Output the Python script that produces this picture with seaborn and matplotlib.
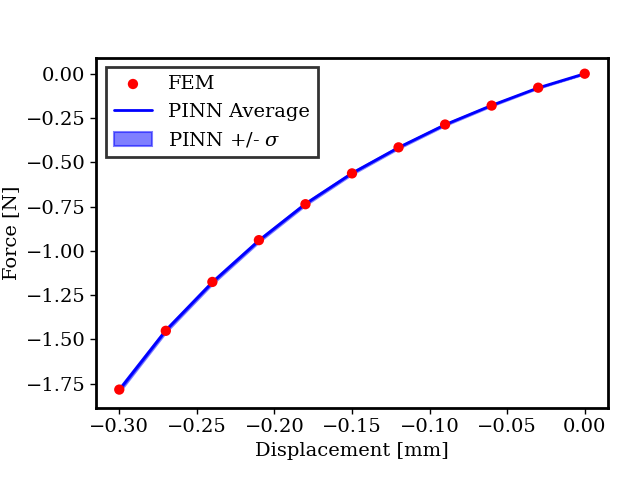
import matplotlib
matplotlib.use("Agg")
import matplotlib.pyplot as plt
import numpy as np
import seaborn as sns

# FEM reference points
disp = [-0.30, -0.27, -0.24, -0.21, -0.18, -0.15, -0.12, -0.09, -0.06, -0.03, 0.00]
force_fem = [-1.784, -1.452, -1.176, -0.940, -0.737, -0.563, -0.416, -0.287, -0.180, -0.079, 0.000]

# PINN prediction (mean and std)
force_pinn = [-1.786, -1.450, -1.178, -0.942, -0.735, -0.562, -0.417, -0.288, -0.179, -0.080, 0.000]
force_std = [0.012, 0.010, 0.009, 0.008, 0.007, 0.006, 0.005, 0.004, 0.003, 0.002, 0.001]

sns.set_style("white")
plt.rcParams["font.family"] = ["DejaVu Serif"]
plt.rcParams["font.size"] = 14
plt.rcParams["mathtext.fontset"] = "dejavuserif"
for k in ["text.color", "axes.labelcolor", "xtick.color", "ytick.color"]:
    plt.rcParams[k] = "black"

fig, ax = plt.subplots(figsize=(6.4, 4.8), dpi=100)
fig.subplots_adjust(left=0.15, right=0.95, top=0.88, bottom=0.15)

mean = np.array(force_pinn)
std = np.array(force_std)
ax.fill_between(disp, mean - std, mean + std, color="blue", alpha=0.5,
                edgecolor="blue", linewidth=1.5, label=r"PINN +/- $\sigma$", zorder=2)
sns.lineplot(x=disp, y=force_pinn, color="blue", linewidth=2, label="PINN Average",
             ax=ax, zorder=3)
sns.scatterplot(x=disp, y=force_fem, color="red", s=55, edgecolor="none", label="FEM",
                ax=ax, zorder=4)

ax.set_xlabel("Displacement [mm]")
ax.set_ylabel("Force [N]")
ax.tick_params(axis="both", direction="out", length=4, width=1, left=True, bottom=True)
for s in ax.spines.values():
    s.set_linewidth(2)
    s.set_color("black")

handles, labels = ax.get_legend_handles_labels()
order = [labels.index("FEM"), labels.index("PINN Average"), labels.index(r"PINN +/- $\sigma$")]
leg = ax.legend([handles[i] for i in order], [labels[i] for i in order],
                loc="upper left", fancybox=False, framealpha=1)
leg.get_frame().set_edgecolor("#333333")
leg.get_frame().set_linewidth(2)

fig.savefig("out.png", dpi=100)
